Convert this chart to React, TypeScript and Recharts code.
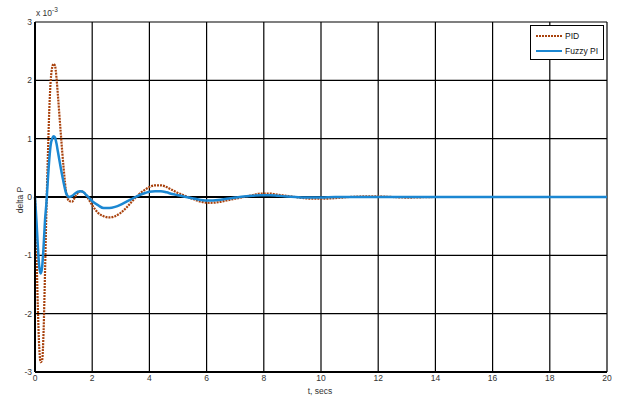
import React from 'react';
import { LineChart, Line, XAxis, YAxis, CartesianGrid, ReferenceLine } from 'recharts';

const time = [0, 0.05, 0.1, 0.15, 0.2, 0.25, 0.3, 0.35, 0.4, 0.45, 0.5, 0.55, 0.6, 0.65, 0.7, 0.75, 0.8, 0.9, 1.0, 1.1, 1.2, 1.3, 1.4, 1.5, 1.6, 1.7, 1.8, 1.9, 2.0, 2.2, 2.4, 2.6, 2.8, 3.0, 3.2, 3.4, 3.6, 3.8, 4.0, 4.2, 4.4, 4.6, 4.8, 5.0, 5.2, 5.5, 5.8, 6.1, 6.4, 6.7, 7.0, 7.3, 7.6, 7.9, 8.2, 8.5, 8.8, 9.1, 9.4, 9.7, 10.0, 10.5, 11, 11.5, 12, 12.5, 13, 14, 15, 16, 17, 18, 19, 20];

const pid = [0, -0.9, -1.9, -2.6, -2.83, -2.8, -2.3, -1.3, -0.2, 0.7, 1.5, 2.0, 2.22, 2.28, 2.25, 2.05, 1.75, 1.1, 0.5, 0.05, -0.07, -0.08, 0.0, 0.07, 0.1, 0.08, 0.02, -0.06, -0.14, -0.27, -0.33, -0.35, -0.33, -0.27, -0.18, -0.07, 0.03, 0.11, 0.17, 0.2, 0.2, 0.17, 0.12, 0.07, 0.03, -0.03, -0.08, -0.1, -0.09, -0.06, -0.03, 0.0, 0.03, 0.06, 0.06, 0.04, 0.02, 0.0, -0.02, -0.03, -0.03, -0.02, 0.0, 0.01, 0.01, 0.0, -0.01, 0, 0, 0, 0, 0, 0, 0];

const fuzzy = [0, -0.4, -0.85, -1.2, -1.31, -1.2, -0.85, -0.4, -0.1, 0.3, 0.65, 0.9, 1.0, 1.04, 1.02, 0.92, 0.78, 0.5, 0.25, 0.05, 0.0, 0.02, 0.06, 0.09, 0.1, 0.08, 0.03, -0.02, -0.07, -0.14, -0.19, -0.19, -0.17, -0.13, -0.08, -0.03, 0.02, 0.06, 0.09, 0.1, 0.1, 0.08, 0.05, 0.03, 0.01, -0.02, -0.05, -0.06, -0.05, -0.03, -0.01, 0.01, 0.02, 0.03, 0.03, 0.02, 0.01, 0.0, -0.01, -0.01, -0.01, 0, 0, 0, 0, 0, 0, 0, 0, 0, 0, 0, 0, 0];

const xTicks = [0, 2, 4, 6, 8, 10, 12, 14, 16, 18, 20];
const yTicks = [-3, -2, -1, 0, 1, 2, 3];

const seriesNames = ['PID', 'Fuzzy PI'];
const PID_COLOR = '#a9420d';
const FUZZY_COLOR = '#1b87d2';

const data = time.map((t, i) => ({ t, pid: pid[i], fuzzy: fuzzy[i] }));

const FONT = '"Liberation Sans", Arial, sans-serif';

const LegendBox = () => (
  <div style={{ position: 'absolute', left: 530, top: 25, border: '1.5px solid #000', background: '#fff', width: 74, height: 35, fontFamily: FONT, fontSize: 8.5, color: '#111', boxSizing: 'border-box', padding: '2px 0 0 5px' }}>
    <div style={{ display: 'flex', alignItems: 'center', height: 15 }}>
      <svg width={26} height={4}><line x1={0} y1={2} x2={26} y2={2} stroke={PID_COLOR} strokeWidth={2} strokeDasharray="2 1" /></svg>
      <span style={{ marginLeft: 3 }}>{seriesNames[0]}</span>
    </div>
    <div style={{ display: 'flex', alignItems: 'center', height: 15 }}>
      <svg width={26} height={4}><line x1={0} y1={2} x2={26} y2={2} stroke={FUZZY_COLOR} strokeWidth={2} /></svg>
      <span style={{ marginLeft: 3 }}>{seriesNames[1]}</span>
    </div>
  </div>
);

export default function App() {
  return (
    <div style={{ position: 'absolute', left: 0, top: 0, width: 617, height: 396, background: '#fff', fontFamily: FONT }}>
      <LineChart width={617} height={396} data={data} margin={{ top: 22, right: 10, bottom: 0, left: 0 }}>
        <CartesianGrid stroke="#000" strokeWidth={1.2} />
        <XAxis dataKey="t" type="number" domain={[0, 20]} ticks={xTicks} height={24} tickSize={0} tickMargin={3}
          axisLine={{ stroke: '#000', strokeWidth: 2 }} tick={{ fontSize: 8.5, fill: '#333', fontFamily: FONT }} interval={0} />
        <YAxis type="number" domain={[-3, 3]} ticks={yTicks} width={35} tickSize={0} tickMargin={3}
          axisLine={{ stroke: '#000', strokeWidth: 2 }} tick={{ fontSize: 8.5, fill: '#333', fontFamily: FONT }} interval={0} />
        <ReferenceLine y={0} stroke="#000" strokeWidth={2} />
        <Line type="monotone" dataKey="pid" name={seriesNames[0]} stroke={PID_COLOR} strokeWidth={2.2} strokeDasharray="2 1" dot={false} isAnimationActive={false} />
        <Line type="monotone" dataKey="fuzzy" name={seriesNames[1]} stroke={FUZZY_COLOR} strokeWidth={2.5} dot={false} isAnimationActive={false} />
      </LineChart>
      <LegendBox />
      <div style={{ position: 'absolute', left: 36, top: 6, fontSize: 8.5, color: '#333' }}>
        x 10<sup style={{ fontSize: 6.5 }}>-3</sup>
      </div>
      <div style={{ position: 'absolute', left: 295, top: 386, width: 50, textAlign: 'center', fontSize: 8.5, lineHeight: '10px', color: '#333' }}>t, secs</div>
      <div style={{ position: 'absolute', left: 0, top: 195, width: 40, textAlign: 'center', fontSize: 8.5, lineHeight: '10px', color: '#333', transform: 'rotate(-90deg)' }}>delta P</div>
    </div>
  );
}
